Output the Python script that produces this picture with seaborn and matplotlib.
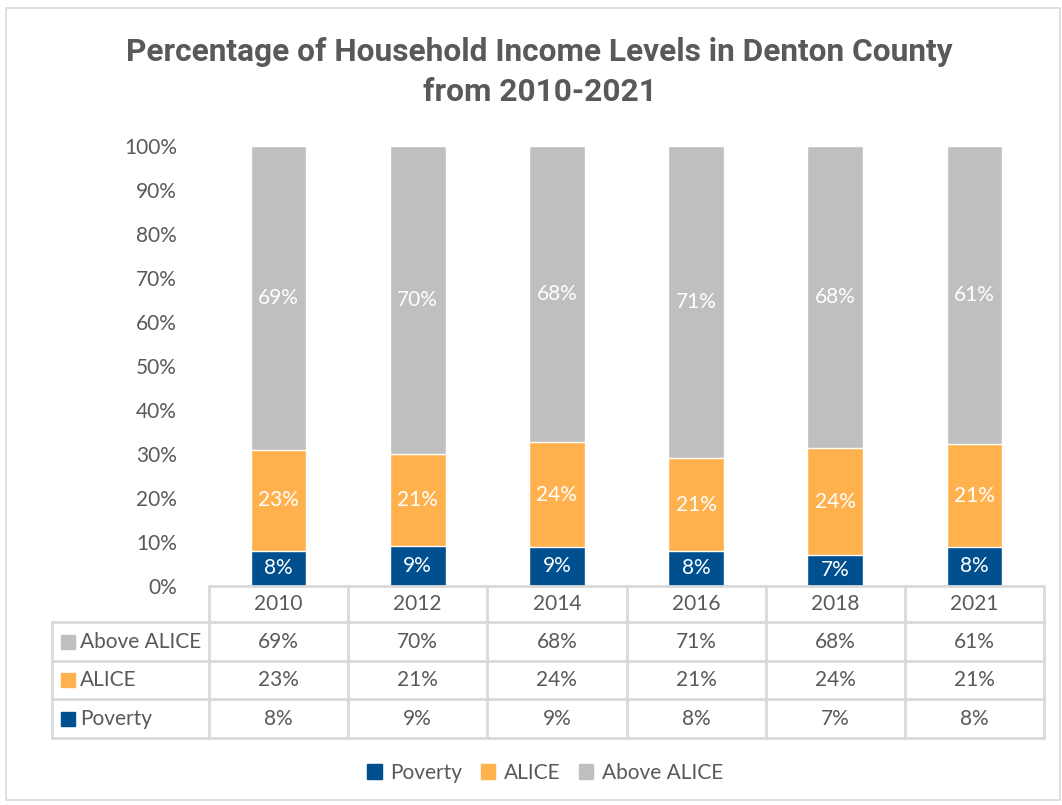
import numpy as np
import pandas as pd
import matplotlib
matplotlib.use("Agg")
import matplotlib.pyplot as plt
from matplotlib.lines import Line2D
from matplotlib.patches import Rectangle
import seaborn as sns

# Data (as shown in the chart's data table)
years = ["2010", "2012", "2014", "2016", "2018", "2021"]
poverty = [8, 9, 9, 8, 7, 8]
alice = [23, 21, 24, 21, 24, 21]
above_alice = [69, 70, 68, 71, 68, 61]

series_names = ["Poverty", "ALICE", "Above ALICE"]
colors = {"Poverty": "#00508F", "ALICE": "#FFB14E", "Above ALICE": "#BFBFBF"}
text_color = "#595959"
line_color = "#D9D9D9"

W, H = 1062, 805
FS = 15

sns.set_theme(style="white")
plt.rcParams['font.family'] = ['Lato', 'DejaVu Sans']


def fx(px):
    return px / W


def fy(py):
    return 1 - py / H


# 100% stacked: normalise each year to its total
df = pd.DataFrame({"Year": years, "Poverty": poverty, "ALICE": alice,
                   "Above ALICE": above_alice})
total = df[series_names].sum(axis=1)
df["top_pov"] = df["Poverty"] / total * 100
df["top_alice"] = (df["Poverty"] + df["ALICE"]) / total * 100
df["top_above"] = 100.0

fig = plt.figure(figsize=(W / 100, H / 100), dpi=100)
fig.patch.set_facecolor("white")
fig.add_artist(Rectangle((fx(6), fy(800)), fx(1060) - fx(6), fy(8) - fy(800),
                         transform=fig.transFigure, fill=False,
                         edgecolor=line_color, linewidth=1.2))

left, right, top, bottom = 209, 1044, 146, 586
ax = fig.add_axes([fx(left), fy(bottom), fx(right) - fx(left), fy(top) - fy(bottom)])

for col, name in [("top_above", "Above ALICE"), ("top_alice", "ALICE"), ("top_pov", "Poverty")]:
    sns.barplot(data=df, x="Year", y=col, order=years, color=colors[name],
                width=0.4, saturation=1, ax=ax, errorbar=None)

# data labels in the middle of each segment
for i, row in df.iterrows():
    segs = [(0, row["top_pov"], row["Poverty"]),
            (row["top_pov"], row["top_alice"], row["ALICE"]),
            (row["top_alice"], row["top_above"], row["Above ALICE"])]
    for lo, hi, val in segs:
        ax.text(i, (lo + hi) / 2, f"{val}%", ha="center", va="center",
                color="white", fontsize=FS)

ax.set_ylim(0, 100)
ax.set_xlim(-0.5, len(years) - 0.5)
ax.set_yticks(np.arange(0, 101, 10))
ax.set_yticklabels([f"{v}%" for v in range(0, 101, 10)], fontsize=FS, color=text_color)
ax.set_xticks([])
ax.set_xlabel("")
ax.set_ylabel("")
ax.tick_params(axis="y", length=0, pad=23)
for s in ax.spines.values():
    s.set_visible(False)

# data table below the plot
row_edges = [586, 622, 661, 699, 738]
col_edges = [209 + (1044 - 209) * k / len(years) for k in range(len(years) + 1)]
label_left = 52

def hline(y, x0, x1):
    fig.add_artist(Line2D([fx(x0), fx(x1)], [fy(y), fy(y)], color=line_color,
                          linewidth=2, transform=fig.transFigure))

def vline(x, y0, y1):
    fig.add_artist(Line2D([fx(x), fx(x)], [fy(y0), fy(y1)], color=line_color,
                          linewidth=2, transform=fig.transFigure))

hline(row_edges[0], col_edges[0], col_edges[-1])
for y in row_edges[1:]:
    hline(y, label_left, col_edges[-1])
for x in col_edges:
    vline(x, row_edges[0], row_edges[-1])
vline(label_left, row_edges[1], row_edges[-1])

for j, yr in enumerate(years):
    cx = (col_edges[j] + col_edges[j + 1]) / 2
    fig.text(fx(cx), fy((row_edges[0] + row_edges[1]) / 2), yr, ha="center",
             va="center", fontsize=FS, color=text_color)

table_rows = [("Above ALICE", above_alice), ("ALICE", alice), ("Poverty", poverty)]
for r, (name, vals) in enumerate(table_rows):
    cy = (row_edges[r + 1] + row_edges[r + 2]) / 2
    fig.add_artist(Rectangle((fx(61), fy(cy + 7)), fx(14), 14 / H,
                             transform=fig.transFigure, color=colors[name]))
    fig.text(fx(80), fy(cy), name, ha="left", va="center", fontsize=FS,
             color=text_color)
    for j, v in enumerate(vals):
        cx = (col_edges[j] + col_edges[j + 1]) / 2
        fig.text(fx(cx), fy(cy), f"{v}%", ha="center", va="center",
                 fontsize=FS, color=text_color)

# legend
handles = [Rectangle((0, 0), 1, 1, color=colors[n]) for n in series_names]
fig.legend(handles, series_names, loc="center", bbox_to_anchor=(fx(545), fy(773)),
           ncol=3, frameon=False, fontsize=FS, handlelength=0.7, handleheight=0.7,
           handletextpad=0.4, columnspacing=0.9, labelcolor=text_color)

fig.text(0.508, fy(72), "Percentage of Household Income Levels in Denton County\nfrom 2010-2021",
         ha="center", va="center", fontsize=22.8, fontweight="bold", color=text_color,
         family=["Liberation Sans Narrow", "Roboto", "DejaVu Sans"], linespacing=1.4)

fig.savefig("out.png", dpi=100)
